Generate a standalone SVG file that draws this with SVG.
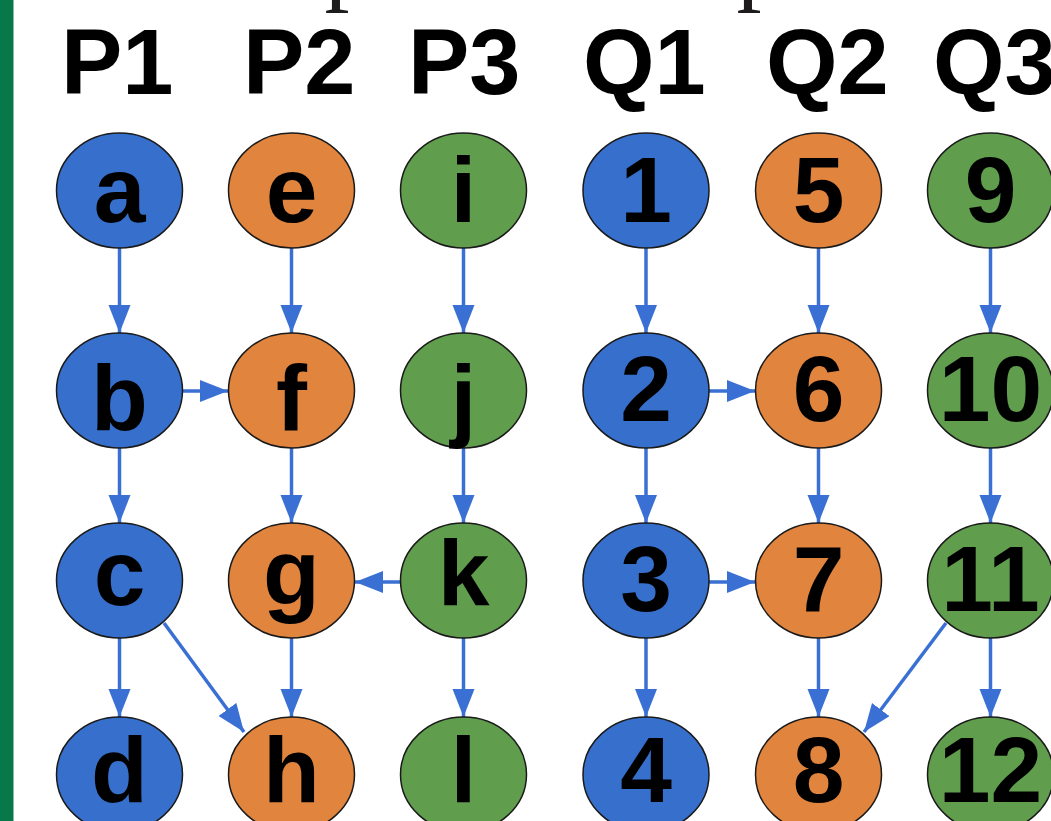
<svg xmlns="http://www.w3.org/2000/svg" width="1051" height="821" viewBox="0 0 1051 821">
  <style>
    .hdr { font-family: "Liberation Sans", Arial, sans-serif; font-weight: bold; font-size: 92px; fill: #000; }
    .lbl { font-family: "Liberation Sans", Arial, sans-serif; font-weight: bold; font-size: 93px; fill: #000; text-anchor: middle; }
    .ttl { font-family: "Liberation Serif", "Times New Roman", serif; font-size: 100px; fill: #1e1b1c; }
    .n { stroke: #1a1a1a; stroke-width: 1.5; }
    .blue { fill: #3670cc; }
    .orange { fill: #e1843e; }
    .green { fill: #609e4e; }
    .edge { stroke: #3a70d4; stroke-width: 3.5; fill: none; marker-end: url(#arrow); }
  </style>
  <defs>
    <marker id="arrow" markerUnits="userSpaceOnUse" markerWidth="30" markerHeight="24" refX="28" refY="11" orient="auto">
      <path d="M0,0 L28,11 L0,22 Z" fill="#3a70d4"/>
    </marker>
  </defs>

  <rect width="1051" height="821" fill="#ffffff"/>
  <!-- left accent bar -->
  <rect x="0" y="0" width="13.5" height="821" fill="#08784a"/>

  <!-- title line above (only descenders fall inside the frame) -->
  <text class="ttl" x="324.5" y="-7.7">p</text>
  <text class="ttl" x="736.5" y="-7.7">p</text>

  <!-- column headers -->
  <g id="headers">
    <text class="hdr" x="61" y="94">P1</text>
    <text class="hdr" x="243" y="94">P2</text>
    <text class="hdr" x="408" y="94">P3</text>
    <text class="hdr" x="583" y="94">Q1</text>
    <text class="hdr" x="766" y="94">Q2</text>
    <text class="hdr" x="933" y="94">Q3</text>
  </g>

  <!-- connectors -->
  <g id="connectors">
    <!-- P1 -->
    <line class="edge" x1="119.5" y1="248" x2="119.5" y2="333"/>
    <line class="edge" x1="119.5" y1="448" x2="119.5" y2="523"/>
    <line class="edge" x1="119.5" y1="638" x2="119.5" y2="717"/>
    <!-- P2 -->
    <line class="edge" x1="291.5" y1="248" x2="291.5" y2="333"/>
    <line class="edge" x1="291.5" y1="448" x2="291.5" y2="523"/>
    <line class="edge" x1="291.5" y1="638" x2="291.5" y2="717"/>
    <!-- P3 -->
    <line class="edge" x1="463.5" y1="248" x2="463.5" y2="333"/>
    <line class="edge" x1="463.5" y1="448" x2="463.5" y2="523"/>
    <line class="edge" x1="463.5" y1="638" x2="463.5" y2="717"/>
    <!-- Q1 -->
    <line class="edge" x1="646" y1="248" x2="646" y2="333"/>
    <line class="edge" x1="646" y1="448" x2="646" y2="523"/>
    <line class="edge" x1="646" y1="638" x2="646" y2="717"/>
    <!-- Q2 -->
    <line class="edge" x1="818.5" y1="248" x2="818.5" y2="333"/>
    <line class="edge" x1="818.5" y1="448" x2="818.5" y2="523"/>
    <line class="edge" x1="818.5" y1="638" x2="818.5" y2="717"/>
    <!-- Q3 -->
    <line class="edge" x1="990.5" y1="248" x2="990.5" y2="333"/>
    <line class="edge" x1="990.5" y1="448" x2="990.5" y2="523"/>
    <line class="edge" x1="990.5" y1="638" x2="990.5" y2="717"/>
    <!-- cross edges -->
    <line class="edge" x1="182.5" y1="391" x2="228" y2="391"/>
    <line class="edge" x1="400" y1="582" x2="355" y2="582"/>
    <line class="edge" x1="164" y1="623" x2="244" y2="732"/>
    <line class="edge" x1="709" y1="391" x2="755" y2="391"/>
    <line class="edge" x1="709" y1="582" x2="755" y2="582"/>
    <line class="edge" x1="946" y1="623" x2="864" y2="732"/>
  </g>

  <!-- P1 -->
  <g id="node-a"><ellipse class="n blue" cx="119.5" cy="190.5" rx="63" ry="57.5"/><text class="lbl" x="119.5" y="222">a</text></g>
  <g id="node-b"><ellipse class="n blue" cx="119.5" cy="390.5" rx="63" ry="57.5"/><text class="lbl" x="119.5" y="430">b</text></g>
  <g id="node-c"><ellipse class="n blue" cx="119.5" cy="580.5" rx="63" ry="57.5"/><text class="lbl" x="119.5" y="605">c</text></g>
  <g id="node-d"><ellipse class="n blue" cx="119.5" cy="774.5" rx="63" ry="57.5"/><text class="lbl" x="119.5" y="802">d</text></g>
  <!-- P2 -->
  <g id="node-e"><ellipse class="n orange" cx="291.5" cy="190.5" rx="63" ry="57.5"/><text class="lbl" x="291.5" y="222">e</text></g>
  <g id="node-f"><ellipse class="n orange" cx="291.5" cy="390.5" rx="63" ry="57.5"/><text class="lbl" x="291.5" y="430">f</text></g>
  <g id="node-g"><ellipse class="n orange" cx="291.5" cy="580.5" rx="63" ry="57.5"/><text class="lbl" x="291.5" y="605">g</text></g>
  <g id="node-h"><ellipse class="n orange" cx="291.5" cy="774.5" rx="63" ry="57.5"/><text class="lbl" x="291.5" y="802">h</text></g>
  <!-- P3 -->
  <g id="node-i"><ellipse class="n green" cx="463.5" cy="190.5" rx="63" ry="57.5"/><text class="lbl" x="463.5" y="222">i</text></g>
  <g id="node-j"><ellipse class="n green" cx="463.5" cy="390.5" rx="63" ry="57.5"/><text class="lbl" x="463.5" y="430">j</text></g>
  <g id="node-k"><ellipse class="n green" cx="463.5" cy="580.5" rx="63" ry="57.5"/><text class="lbl" x="463.5" y="605">k</text></g>
  <g id="node-l"><ellipse class="n green" cx="463.5" cy="774.5" rx="63" ry="57.5"/><text class="lbl" x="463.5" y="802">l</text></g>
  <!-- Q1 -->
  <g id="node-1"><ellipse class="n blue" cx="646" cy="190.5" rx="63" ry="57.5"/><text class="lbl" x="646" y="222">1</text></g>
  <g id="node-2"><ellipse class="n blue" cx="646" cy="390.5" rx="63" ry="57.5"/><text class="lbl" x="646" y="421">2</text></g>
  <g id="node-3"><ellipse class="n blue" cx="646" cy="580.5" rx="63" ry="57.5"/><text class="lbl" x="646" y="611">3</text></g>
  <g id="node-4"><ellipse class="n blue" cx="646" cy="774.5" rx="63" ry="57.5"/><text class="lbl" x="646" y="802">4</text></g>
  <!-- Q2 -->
  <g id="node-5"><ellipse class="n orange" cx="818.5" cy="190.5" rx="63" ry="57.5"/><text class="lbl" x="818.5" y="222">5</text></g>
  <g id="node-6"><ellipse class="n orange" cx="818.5" cy="390.5" rx="63" ry="57.5"/><text class="lbl" x="818.5" y="421">6</text></g>
  <g id="node-7"><ellipse class="n orange" cx="818.5" cy="580.5" rx="63" ry="57.5"/><text class="lbl" x="818.5" y="611">7</text></g>
  <g id="node-8"><ellipse class="n orange" cx="818.5" cy="774.5" rx="63" ry="57.5"/><text class="lbl" x="818.5" y="802">8</text></g>
  <!-- Q3 -->
  <g id="node-9"><ellipse class="n green" cx="990.5" cy="190.5" rx="63" ry="57.5"/><text class="lbl" x="990.5" y="222">9</text></g>
  <g id="node-10"><ellipse class="n green" cx="990.5" cy="390.5" rx="63" ry="57.5"/><text class="lbl" x="990.5" y="421">10</text></g>
  <g id="node-11"><ellipse class="n green" cx="990.5" cy="580.5" rx="63" ry="57.5"/><text class="lbl" x="990.5" y="611">11</text></g>
  <g id="node-12"><ellipse class="n green" cx="990.5" cy="774.5" rx="63" ry="57.5"/><text class="lbl" x="990.5" y="802">12</text></g>
</svg>
